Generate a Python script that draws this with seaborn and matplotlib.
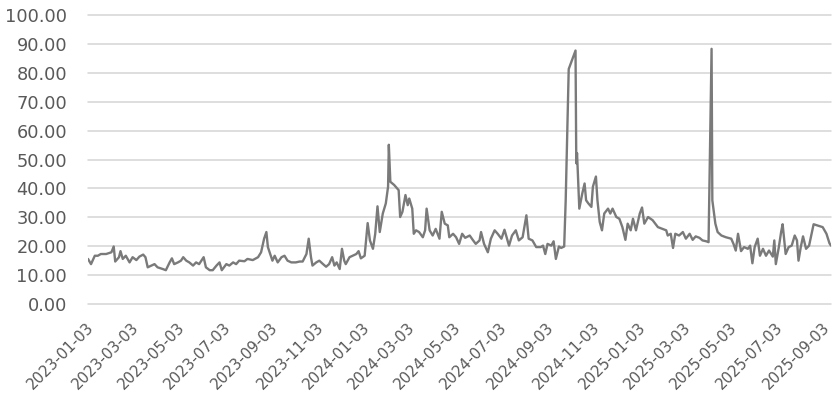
import matplotlib
matplotlib.use("Agg")
import matplotlib.pyplot as plt
import matplotlib.transforms as mtransforms
import seaborn as sns
import pandas as pd
from matplotlib.ticker import FormatStrFormatter

# ---- data ----
dates_2023 = [
    "2023-01-03", "2023-01-07", "2023-01-12", "2023-01-16", "2023-01-20", "2023-01-27", "2023-02-03", "2023-02-06",
    "2023-02-08", "2023-02-13", "2023-02-15", "2023-02-18", "2023-02-22", "2023-02-27", "2023-03-03", "2023-03-08",
    "2023-03-12", "2023-03-17", "2023-03-20", "2023-03-23", "2023-03-28", "2023-04-01", "2023-04-05", "2023-04-12",
    "2023-04-16", "2023-04-21", "2023-04-24", "2023-04-27", "2023-05-02", "2023-05-06", "2023-05-09", "2023-05-13",
    "2023-05-17", "2023-05-22", "2023-05-26", "2023-05-30", "2023-06-05", "2023-06-08", "2023-06-13", "2023-06-17",
    "2023-06-22", "2023-06-26", "2023-06-29", "2023-07-05", "2023-07-09", "2023-07-14", "2023-07-18", "2023-07-22",
    "2023-07-29", "2023-08-02", "2023-08-09", "2023-08-16", "2023-08-20", "2023-08-24", "2023-08-27", "2023-08-29",
    "2023-09-01", "2023-09-04", "2023-09-07", "2023-09-11", "2023-09-16", "2023-09-20", "2023-09-24", "2023-09-29",
    "2023-10-05", "2023-10-10", "2023-10-14", "2023-10-19", "2023-10-22", "2023-10-25", "2023-10-27", "2023-11-01",
    "2023-11-05", "2023-11-10", "2023-11-14", "2023-11-18", "2023-11-22", "2023-11-25", "2023-11-28", "2023-12-02",
    "2023-12-05", "2023-12-08", "2023-12-10", "2023-12-15", "2023-12-19", "2023-12-24", "2023-12-27", "2023-12-30",
]
values_2023 = [
    15.6, 13.8, 16.7, 16.7, 17.3, 17.3, 17.9, 19.9,
    14.7, 16.2, 18.3, 15.6, 16.7, 14.4, 16.2, 15.2,
    16.4, 17.1, 16.2, 12.7, 13.3, 13.8, 12.7, 12.1,
    11.7, 14.4, 15.8, 13.8, 14.4, 15.0, 16.2, 15.0,
    14.4, 13.3, 14.4, 13.8, 16.2, 12.7, 11.7, 11.7,
    13.3, 14.4, 11.7, 13.8, 13.3, 14.4, 13.8, 15.0,
    14.8, 15.6, 15.2, 16.2, 17.9, 22.6, 24.9, 19.7,
    17.3, 15.0, 16.7, 14.4, 16.2, 16.7, 15.0, 14.4,
    14.4, 14.7, 14.7, 17.3, 22.6, 16.2, 13.3, 14.4,
    15.0, 13.8, 12.9, 13.8, 16.2, 13.3, 14.4, 12.1,
    19.1, 15.0, 13.8, 16.2, 16.7, 17.3, 18.3, 15.8,
]

dates_2024 = [
    "2024-01-04", "2024-01-08", "2024-01-11", "2024-01-15", "2024-01-18", "2024-01-21", "2024-01-24", "2024-01-28",
    "2024-02-01", "2024-02-04", "2024-02-05", "2024-02-07", "2024-02-12", "2024-02-18", "2024-02-20", "2024-02-23",
    "2024-02-27", "2024-03-01", "2024-03-03", "2024-03-07", "2024-03-09", "2024-03-12", "2024-03-16", "2024-03-21",
    "2024-03-24", "2024-03-26", "2024-03-30", "2024-04-03", "2024-04-07", "2024-04-12", "2024-04-15", "2024-04-19",
    "2024-04-23", "2024-04-25", "2024-04-30", "2024-05-04", "2024-05-08", "2024-05-12", "2024-05-16", "2024-05-22",
    "2024-05-26", "2024-05-30", "2024-06-04", "2024-06-06", "2024-06-10", "2024-06-15", "2024-06-19", "2024-06-24",
    "2024-06-28", "2024-07-03", "2024-07-07", "2024-07-13", "2024-07-17", "2024-07-22", "2024-07-26", "2024-07-31",
    "2024-08-05", "2024-08-08", "2024-08-13", "2024-08-18", "2024-08-24", "2024-08-27", "2024-08-30", "2024-09-02",
    "2024-09-07", "2024-09-10", "2024-09-13", "2024-09-17", "2024-09-20", "2024-09-24", "2024-09-26", "2024-09-30",
    "2024-10-09", "2024-10-10", "2024-10-11", "2024-10-14", "2024-10-18", "2024-10-21", "2024-10-23", "2024-10-26",
    "2024-10-30", "2024-11-01", "2024-11-05", "2024-11-07", "2024-11-10", "2024-11-13", "2024-11-16", "2024-11-21",
    "2024-11-24", "2024-11-27", "2024-12-02", "2024-12-06", "2024-12-10", "2024-12-14", "2024-12-17", "2024-12-21",
    "2024-12-24", "2024-12-28",
]
values_2024 = [
    16.7, 28.0, 22.0, 19.1, 24.3, 33.8, 24.9, 31.3,
    34.8, 40.6, 55.1, 42.3, 41.2, 39.4, 30.1, 31.9,
    37.7, 34.2, 36.5, 33.0, 24.3, 25.5, 24.9, 23.1,
    25.5, 33.0, 25.5, 23.7, 26.0, 22.6, 31.9, 27.8,
    27.2, 23.1, 24.3, 23.1, 20.8, 24.3, 22.9, 23.7,
    22.2, 20.8, 22.0, 24.9, 20.8, 17.9, 22.6, 25.5,
    24.3, 22.6, 25.7, 20.2, 23.7, 25.5, 22.0, 23.1,
    30.7, 22.6, 22.0, 19.7, 19.7, 20.2, 17.3, 20.8,
    20.2, 21.7, 15.6, 19.9, 19.4, 19.9, 35.9, 81.3,
    87.7, 48.7, 52.2, 33.0, 38.3, 41.7, 35.9, 34.8,
    33.6, 40.6, 44.1, 35.9, 28.4, 25.5, 31.3, 33.0,
    31.3, 33.0, 30.1, 29.5, 26.6, 22.2, 27.8, 25.5,
    29.5, 25.5,
]

dates_2025 = [
    "2025-01-02", "2025-01-05", "2025-01-08", "2025-01-13", "2025-01-19", "2025-01-26", "2025-02-01", "2025-02-06",
    "2025-02-08", "2025-02-12", "2025-02-15", "2025-02-18", "2025-02-23", "2025-02-28", "2025-03-04", "2025-03-09",
    "2025-03-13", "2025-03-17", "2025-03-22", "2025-03-26", "2025-03-31", "2025-04-03", "2025-04-07", "2025-04-08",
    "2025-04-12", "2025-04-15", "2025-04-20", "2025-04-26", "2025-05-03", "2025-05-06", "2025-05-09", "2025-05-12",
    "2025-05-16", "2025-05-20", "2025-05-25", "2025-05-28", "2025-05-31", "2025-06-03", "2025-06-07", "2025-06-10",
    "2025-06-14", "2025-06-18", "2025-06-22", "2025-06-27", "2025-06-29", "2025-07-01", "2025-07-05", "2025-07-08",
    "2025-07-10", "2025-07-14", "2025-07-18", "2025-07-22", "2025-07-26", "2025-07-29", "2025-07-31", "2025-08-03",
    "2025-08-06", "2025-08-10", "2025-08-14", "2025-08-20", "2025-08-25", "2025-09-01", "2025-09-06", "2025-09-10",
    "2025-09-12",
]
values_2025 = [
    31.3, 33.4, 27.8, 30.1, 29.0, 26.6, 26.0, 25.5,
    23.7, 24.3, 19.4, 24.3, 23.7, 24.9, 22.6, 24.3,
    22.2, 23.4, 22.9, 22.0, 21.7, 21.4, 88.3, 35.9,
    27.8, 24.9, 23.7, 23.1, 22.6, 20.8, 18.5, 24.3,
    18.3, 19.7, 19.1, 20.2, 14.1, 19.7, 22.6, 16.7,
    19.1, 16.7, 18.5, 16.4, 22.0, 13.8, 19.7, 24.9,
    27.6, 17.3, 19.7, 20.2, 23.7, 22.0, 15.0, 19.7,
    23.4, 19.1, 20.2, 27.6, 27.2, 26.6, 24.3, 21.0,
    20.2,
]

tick_labels = [
    "2023-01-03", "2023-03-03", "2023-05-03", "2023-07-03", "2023-09-03", "2023-11-03",
    "2024-01-03", "2024-03-03", "2024-05-03", "2024-07-03", "2024-09-03", "2024-11-03",
    "2025-01-03", "2025-03-03", "2025-05-03", "2025-07-03", "2025-09-03",
]
y_ticks = [0, 10, 20, 30, 40, 50, 60, 70, 80, 90, 100]

# ---- build frame ----
df = pd.DataFrame({
    "date": pd.to_datetime(dates_2023 + dates_2024 + dates_2025),
    "value": values_2023 + values_2024 + values_2025,
})

sns.set_theme(style="white")
plt.rcParams["font.family"] = ["DejaVu Sans"]

W, H = 838, 404
fig = plt.figure(figsize=(W / 100, H / 100), dpi=100)
# axes spans y from -1 to 100 so the 0 baseline lies inside the drawing area
ax = fig.add_axes([88 / W, 1 - 306.9 / H, (831 - 88) / W, (306.9 - 15) / H])

sns.lineplot(data=df, x="date", y="value", ax=ax, color="#7a7a7a",
             linewidth=1.7, estimator=None, sort=False, zorder=2)

ax.set_ylim(-1, 100)
ax.set_yticks(y_ticks)
ax.yaxis.set_major_formatter(FormatStrFormatter("%.2f"))
ax.set_xlim(df["date"].min(), df["date"].max())
ax.set_xticks(pd.to_datetime(tick_labels))
ax.set_xticklabels(tick_labels, rotation=45, ha="right", va="top",
                   rotation_mode="anchor")

ax.grid(axis="y", color="#d4d4d4", linewidth=1.1, zorder=0)
ax.grid(axis="x", visible=False)
ax.set_axisbelow(True)
for gl in ax.get_ygridlines():
    gl.set_clip_on(False)
for s in ax.spines.values():
    s.set_visible(False)
ax.tick_params(axis="both", length=0, colors="#595959")
ax.tick_params(axis="y", pad=15, labelsize=12.8)
ax.tick_params(axis="x", pad=9, labelsize=10.8)
ax.set_xlabel("")
ax.set_ylabel("")

shift = mtransforms.ScaledTranslation(-2 / 100, 0, fig.dpi_scale_trans)
for lbl in ax.get_xticklabels():
    lbl.set_transform(lbl.get_transform() + shift)

fig.savefig("out.png", dpi=100, facecolor="white")
